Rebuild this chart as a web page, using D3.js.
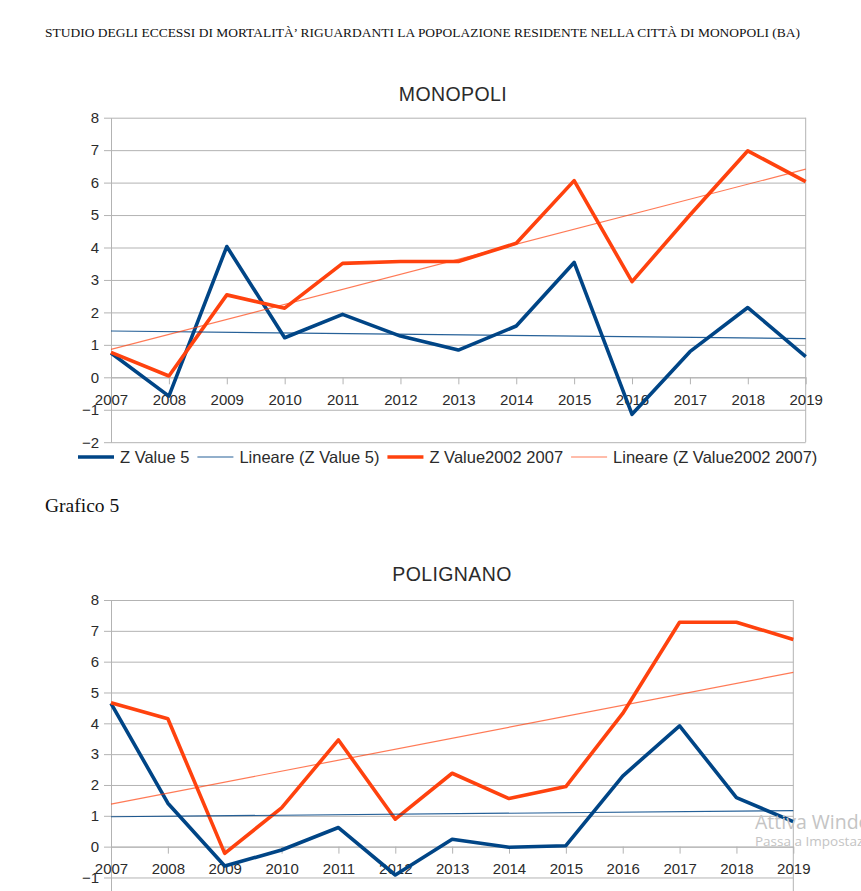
<!DOCTYPE html>
<html>
<head>
<meta charset="utf-8">
<script src="https://cdn.jsdelivr.net/npm/d3@7/dist/d3.min.js"></script>
<style>
  body { margin: 0; background: #fff; }
  svg { display: block; }
</style>
</head>
<body>
<svg id="page" width="861" height="891"></svg>
<script>
'use strict';

// values
var years = [2007, 2008, 2009, 2010, 2011, 2012, 2013, 2014, 2015, 2016, 2017, 2018, 2019];
var monopoliZ5 = [0.75, -0.58, 4.03, 1.22, 1.94, 1.27, 0.84, 1.58, 3.54, -1.14, 0.79, 2.15, 0.64];
var monopoliZ2002 = [0.77, 0.04, 2.54, 2.13, 3.51, 3.57, 3.57, 4.13, 6.06, 2.95, 5.0, 6.98, 6.03];
var polignanoZ5 = [4.65, 1.41, -0.63, -0.11, 0.62, -0.92, 0.24, -0.02, 0.03, 2.29, 3.92, 1.59, 0.81];
var polignanoZ2002 = [4.67, 4.15, -0.22, 1.26, 3.46, 0.89, 2.38, 1.56, 1.95, 4.32, 7.28, 7.28, 6.72];
var yTicks = [-2, -1, 0, 1, 2, 3, 4, 5, 6, 7, 8];
var seriesNames = ['Z Value 5', 'Lineare (Z Value 5)', 'Z Value2002 2007', 'Lineare (Z Value2002 2007)'];

var BLUE = '#004586',
    ORANGE = '#ff420e',
    GRID = '#b3b3b3',
    INK = '#2b2b2b',
    SANS = '"Liberation Sans", Arial, sans-serif',
    SERIF = '"Liberation Serif", "Times New Roman", serif';

var svg = d3.select('#page');

// least squares line through the series, returns value at first/last year
function trend(values) {
  var n = values.length,
      mx = d3.mean(years),
      my = d3.mean(values),
      sxy = 0, sxx = 0;
  years.forEach(function(yr, i) {
    sxy += (yr - mx) * (values[i] - my);
    sxx += (yr - mx) * (yr - mx);
  });
  var b = sxy / sxx;
  return [years[0], years[n - 1]].map(function(yr) {
    return { year: yr, v: my + b * (yr - mx) };
  });
}

function drawChart(cfg) {
  var x = d3.scaleLinear().domain([2007, 2019]).range([cfg.left, cfg.right]);
  var y = d3.scaleLinear().domain([-2, 8]).range([cfg.bottom, cfg.top]);
  var w = cfg.right - cfg.left;
  var g = svg.append('g').attr('class', 'chart');

  g.append('text')
    .attr('x', cfg.titleX)
    .attr('y', cfg.titleY)
    .attr('text-anchor', 'middle')
    .style('font-family', SANS)
    .style('font-size', '19.5px')
    .style('letter-spacing', '0.4px')
    .style('fill', INK)
    .text(cfg.title);

  // horizontal grid
  var grid = g.append('g')
    .attr('transform', 'translate(' + cfg.left + ',0)')
    .call(d3.axisLeft(y).tickValues(yTicks).tickSize(-w).tickFormat(''));
  grid.select('.domain').remove();
  grid.selectAll('line').attr('stroke', GRID);

  // right frame
  g.append('line')
    .attr('x1', cfg.right).attr('x2', cfg.right)
    .attr('y1', cfg.top).attr('y2', cfg.bottom)
    .attr('stroke', GRID);

  var yAxis = g.append('g')
    .attr('transform', 'translate(' + cfg.left + ',0)')
    .call(d3.axisLeft(y).tickValues(yTicks).tickSize(7).tickSizeOuter(0).tickPadding(5));
  yAxis.selectAll('line, path').attr('stroke', GRID);
  yAxis.selectAll('text')
    .style('font-family', SANS).style('font-size', '15px').style('fill', INK);

  var xAxis = g.append('g')
    .attr('transform', 'translate(0,' + y(0) + ')')
    .call(d3.axisBottom(x).tickValues(years).tickFormat(d3.format('d'))
      .tickSize(7).tickSizeOuter(0).tickPadding(10));
  xAxis.selectAll('line, path').attr('stroke', GRID);
  xAxis.selectAll('text')
    .style('font-family', SANS).style('font-size', '15px').style('fill', INK);

  var line = d3.line()
    .x(function(d) { return x(d.year); })
    .y(function(d) { return y(d.v); });

  function rows(values) {
    return values.map(function(v, i) { return { year: years[i], v: v }; });
  }

  var layers = [
    { data: rows(cfg.z5), color: BLUE, width: 3.6, opacity: 1 },
    { data: rows(cfg.z2002), color: ORANGE, width: 3.6, opacity: 1 },
    { data: trend(cfg.z5), color: BLUE, width: 1.2, opacity: 0.85 },
    { data: trend(cfg.z2002), color: ORANGE, width: 1.2, opacity: 0.7 }
  ];
  g.selectAll('path.series')
    .data(layers)
    .enter().append('path')
    .attr('class', 'series')
    .attr('d', function(d) { return line(d.data); })
    .attr('fill', 'none')
    .attr('stroke', function(d) { return d.color; })
    .attr('stroke-width', function(d) { return d.width; })
    .attr('stroke-opacity', function(d) { return d.opacity; })
    .attr('stroke-linejoin', 'round');

  if (cfg.legendY) {
    var leg = g.append('g').attr('class', 'legend');
    var styles = [layers[0], layers[2], layers[1], layers[3]];
    var cx = cfg.legendX;
    seriesNames.forEach(function(name, i) {
      leg.append('line')
        .attr('x1', cx).attr('x2', cx + 36)
        .attr('y1', cfg.legendY).attr('y2', cfg.legendY)
        .attr('stroke', styles[i].color)
        .attr('stroke-width', styles[i].width)
        .attr('stroke-opacity', styles[i].opacity);
      var t = leg.append('text')
        .attr('x', cx + 42)
        .attr('y', cfg.legendY + 5.5)
        .style('font-family', SANS)
        .style('font-size', '16.5px')
        .style('fill', INK)
        .text(name);
      cx += 42 + t.node().getComputedTextLength() + 8;
    });
  }
}

svg.append('text')
  .attr('x', 45).attr('y', 37)
  .attr('textLength', 755)
  .attr('lengthAdjust', 'spacingAndGlyphs')
  .style('font-family', SERIF)
  .style('font-size', '12.5px')
  .style('fill', '#111')
  .text('STUDIO DEGLI ECCESSI DI MORTALITÀ’ RIGUARDANTI LA POPOLAZIONE RESIDENTE NELLA CITTÀ DI MONOPOLI (BA)');

drawChart({
  title: 'MONOPOLI', titleX: 453, titleY: 101,
  left: 111, right: 805.7, top: 117.7, bottom: 442.2,
  z5: monopoliZ5, z2002: monopoliZ2002,
  legendX: 78, legendY: 457
});

svg.append('text')
  .attr('x', 45).attr('y', 511.5)
  .style('font-family', SERIF)
  .style('font-size', '19.5px')
  .style('fill', '#111')
  .text('Grafico 5');

drawChart({
  title: 'POLIGNANO', titleX: 452, titleY: 580.5,
  left: 111, right: 793.3, top: 600, bottom: 908.3,
  z5: polignanoZ5, z2002: polignanoZ2002
});

// windows activation watermark present in the screenshot
svg.append('text')
  .attr('x', 755).attr('y', 829)
  .style('font-family', '"Open Sans", "Noto Sans", sans-serif')
  .style('font-size', '19.5px')
  .style('fill', '#c4c4c4')
  .text('Attiva Windows');
svg.append('text')
  .attr('x', 755).attr('y', 846)
  .style('font-family', '"Open Sans", "Noto Sans", sans-serif')
  .style('font-size', '13.5px')
  .style('fill', '#c4c4c4')
  .text('Passa a Impostazioni per attivare Windows.');
</script>
</body>
</html>
